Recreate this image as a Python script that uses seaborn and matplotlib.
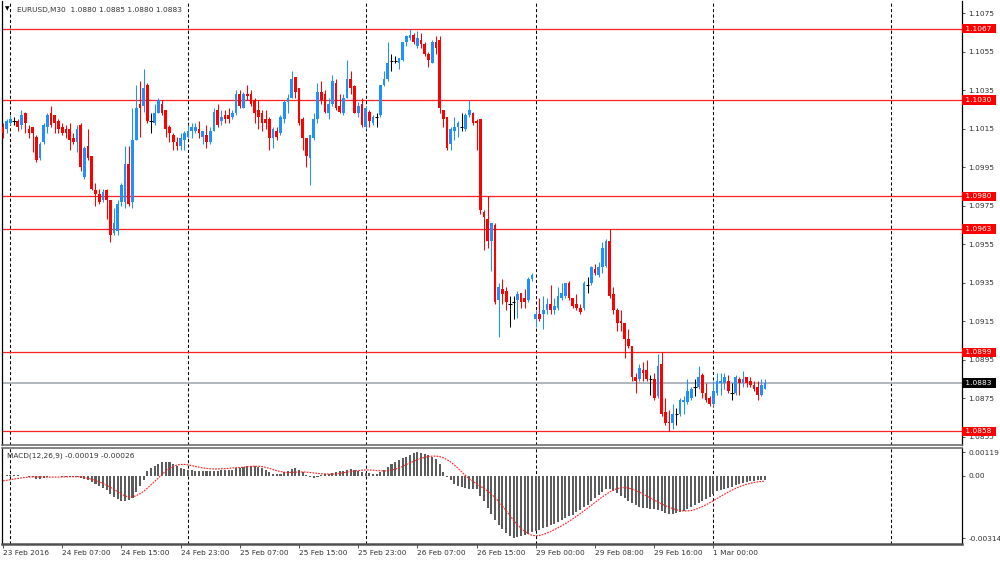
import numpy as np
import pandas as pd
import matplotlib
matplotlib.use("Agg")
import matplotlib.pyplot as plt
import seaborn as sns

# ---------------- data (EURUSD M30) ----------------
opens = [
    1.1016, 1.1015, 1.1018, 1.1019, 1.1019, 1.1017, 1.1023, 1.1015, 1.1016, 1.1011,
    1.1000, 1.1008, 1.1016, 1.1023, 1.1022, 1.1019, 1.1016, 1.1015, 1.1015, 1.1010,
    1.1008, 1.1017, 1.0990, 1.1006, 1.1001, 1.0983, 1.0981, 1.0978, 1.0983, 1.0978,
    1.0961, 1.0962, 1.0977, 1.0977, 1.0997, 1.0977, 1.1009, 1.1028, 1.1027, 1.1038,
    1.1019, 1.1018, 1.1023, 1.1028, 1.1025, 1.1016, 1.1012, 1.1008, 1.1006, 1.1009,
    1.1011, 1.1014, 1.1014, 1.1015, 1.1011, 1.1012, 1.1008, 1.1014, 1.1025, 1.1019,
    1.1022, 1.1022, 1.1021, 1.1023, 1.1033, 1.1026, 1.1033, 1.1033, 1.1030, 1.1025,
    1.1023, 1.1020, 1.1020, 1.1010, 1.1014, 1.1013, 1.1020, 1.1029, 1.1031, 1.1042,
    1.1036, 1.1020, 1.1010, 1.1000, 1.1010, 1.1020, 1.1034, 1.1033, 1.1023, 1.1028,
    1.1039, 1.1027, 1.1023, 1.1031, 1.1041, 1.1037, 1.1023, 1.1028, 1.1016, 1.1024,
    1.1018, 1.1021, 1.1022, 1.1038, 1.1041, 1.1050, 1.1050, 1.1049, 1.1051, 1.1060,
    1.1062, 1.1064, 1.1058, 1.1061, 1.1059, 1.1054, 1.1049, 1.1060, 1.1061, 1.1025,
    1.1021, 1.1007, 1.1014, 1.1016, 1.1016, 1.1015, 1.1022, 1.1023, 1.1019, 1.1020,
    1.0972, 1.0968, 1.0957, 1.0965, 1.0926, 1.0932, 1.0931, 1.0924, 1.0925, 1.0926,
    1.0930, 1.0927, 1.0926, 1.0937, 1.0916, 1.0919, 1.0919, 1.0921, 1.0924, 1.0921,
    1.0922, 1.0927, 1.0928, 1.0935, 1.0927, 1.0924, 1.0922, 1.0922, 1.0934, 1.0935,
    1.0942, 1.0939, 1.0943, 1.0944, 1.0957, 1.0929, 1.0921, 1.0915, 1.0914, 1.0906,
    1.0902, 1.0886, 1.0885, 1.0890, 1.0890, 1.0885, 1.0885, 1.0876, 1.0893, 1.0868,
    1.0863, 1.0862, 1.0867, 1.0867, 1.0873, 1.0873, 1.0875, 1.0881, 1.0881, 1.0887,
    1.0878, 1.0875, 1.0872, 1.0878, 1.0883, 1.0883, 1.0884, 1.0878, 1.0878, 1.0885,
    1.0883, 1.0886, 1.0884, 1.0882, 1.0881, 1.0877, 1.0880,
]
highs = [
    1.1018, 1.1020, 1.1022, 1.1021, 1.1020, 1.1025, 1.1024, 1.1017, 1.1016, 1.1012,
    1.1008, 1.1018, 1.1023, 1.1027, 1.1022, 1.1020, 1.1018, 1.1017, 1.1018, 1.1013,
    1.1017, 1.1018, 1.1006, 1.1015, 1.1001, 1.0987, 1.0984, 1.0984, 1.0984, 1.0978,
    1.0974, 1.0978, 1.0987, 1.1006, 1.1006, 1.1026, 1.1038, 1.1040, 1.1046, 1.1039,
    1.1023, 1.1028, 1.1031, 1.1030, 1.1025, 1.1017, 1.1013, 1.1011, 1.1013, 1.1014,
    1.1017, 1.1018, 1.1018, 1.1019, 1.1014, 1.1017, 1.1016, 1.1026, 1.1028, 1.1025,
    1.1025, 1.1026, 1.1025, 1.1035, 1.1035, 1.1034, 1.1038, 1.1035, 1.1031, 1.1030,
    1.1025, 1.1025, 1.1021, 1.1016, 1.1016, 1.1022, 1.1030, 1.1033, 1.1045, 1.1042,
    1.1036, 1.1021, 1.1010, 1.1012, 1.1023, 1.1039, 1.1040, 1.1035, 1.1031, 1.1043,
    1.1041, 1.1033, 1.1033, 1.1051, 1.1045, 1.1038, 1.1029, 1.1031, 1.1027, 1.1025,
    1.1022, 1.1023, 1.1038, 1.1045, 1.1060, 1.1054, 1.1053, 1.1052, 1.1060, 1.1064,
    1.1067, 1.1065, 1.1066, 1.1065, 1.1060, 1.1055, 1.1061, 1.1063, 1.1063, 1.1025,
    1.1021, 1.1016, 1.1021, 1.1019, 1.1023, 1.1023, 1.1030, 1.1024, 1.1020, 1.1020,
    1.0973, 1.0980, 1.0966, 1.0966, 1.0935, 1.0937, 1.0933, 1.0928, 1.0928, 1.0931,
    1.0930, 1.0932, 1.0938, 1.0940, 1.0921, 1.0927, 1.0928, 1.0927, 1.0934, 1.0927,
    1.0933, 1.0935, 1.0935, 1.0936, 1.0927, 1.0929, 1.0924, 1.0936, 1.0938, 1.0944,
    1.0945, 1.0946, 1.0956, 1.0958, 1.0963, 1.0933, 1.0922, 1.0921, 1.0914, 1.0911,
    1.0902, 1.0888, 1.0893, 1.0894, 1.0895, 1.0887, 1.0888, 1.0898, 1.0899, 1.0875,
    1.0869, 1.0872, 1.0870, 1.0875, 1.0876, 1.0885, 1.0881, 1.0885, 1.0892, 1.0888,
    1.0883, 1.0876, 1.0884, 1.0888, 1.0888, 1.0888, 1.0887, 1.0883, 1.0887, 1.0886,
    1.0889, 1.0886, 1.0886, 1.0884, 1.0884, 1.0885, 1.0885,
]
lows = [
    1.1010, 1.1013, 1.1017, 1.1017, 1.1014, 1.1015, 1.1013, 1.1010, 1.1003, 1.0998,
    1.0999, 1.1007, 1.1013, 1.1016, 1.1013, 1.1013, 1.1012, 1.1010, 1.1004, 1.1007,
    1.1003, 1.0993, 1.0989, 1.0999, 1.0983, 1.0975, 1.0976, 1.0977, 1.0968, 1.0956,
    1.0960, 1.0960, 1.0975, 1.0974, 1.0975, 1.0974, 1.1009, 1.1011, 1.1024, 1.1018,
    1.1013, 1.1017, 1.1023, 1.1022, 1.1011, 1.1008, 1.1004, 1.1004, 1.1004, 1.1004,
    1.1010, 1.1010, 1.1013, 1.1010, 1.1007, 1.1005, 1.1007, 1.1014, 1.1016, 1.1017,
    1.1018, 1.1018, 1.1020, 1.1022, 1.1026, 1.1026, 1.1030, 1.1027, 1.1018, 1.1015,
    1.1014, 1.1015, 1.1004, 1.1005, 1.1009, 1.1012, 1.1018, 1.1023, 1.1031, 1.1031,
    1.1017, 1.1004, 1.0995, 1.0986, 1.1009, 1.1018, 1.1028, 1.1023, 1.1020, 1.1027,
    1.1025, 1.1023, 1.1022, 1.1031, 1.1033, 1.1023, 1.1021, 1.1016, 1.1015, 1.1016,
    1.1017, 1.1016, 1.1021, 1.1037, 1.1040, 1.1045, 1.1049, 1.1046, 1.1050, 1.1058,
    1.1061, 1.1059, 1.1057, 1.1057, 1.1053, 1.1047, 1.1049, 1.1054, 1.1023, 1.1016,
    1.1004, 1.1004, 1.1009, 1.1011, 1.1014, 1.1014, 1.1021, 1.1017, 1.1004, 1.0971,
    1.0952, 1.0953, 1.0941, 1.0924, 1.0907, 1.0924, 1.0921, 1.0912, 1.0916, 1.0917,
    1.0922, 1.0922, 1.0925, 1.0936, 1.0912, 1.0915, 1.0911, 1.0919, 1.0919, 1.0919,
    1.0921, 1.0926, 1.0927, 1.0926, 1.0922, 1.0921, 1.0919, 1.0921, 1.0930, 1.0934,
    1.0939, 1.0938, 1.0940, 1.0943, 1.0927, 1.0919, 1.0910, 1.0910, 1.0896, 1.0901,
    1.0884, 1.0878, 1.0884, 1.0884, 1.0884, 1.0877, 1.0874, 1.0875, 1.0866, 1.0861,
    1.0858, 1.0859, 1.0861, 1.0866, 1.0867, 1.0872, 1.0874, 1.0876, 1.0880, 1.0875,
    1.0873, 1.0871, 1.0871, 1.0877, 1.0877, 1.0880, 1.0878, 1.0874, 1.0877, 1.0877,
    1.0881, 1.0881, 1.0881, 1.0879, 1.0874, 1.0876, 1.0880,
]
closes = [
    1.1013, 1.1019, 1.1020, 1.1019, 1.1016, 1.1022, 1.1018, 1.1013, 1.1013, 1.0999,
    1.1007, 1.1017, 1.1022, 1.1017, 1.1018, 1.1015, 1.1013, 1.1013, 1.1009, 1.1008,
    1.1015, 1.0995, 1.1005, 1.1000, 1.0984, 1.0981, 1.0977, 1.0982, 1.0978, 1.0960,
    1.0966, 1.0976, 1.0986, 1.0997, 1.0976, 1.1009, 1.1026, 1.1026, 1.1036, 1.1019,
    1.1019, 1.1023, 1.1030, 1.1023, 1.1015, 1.1013, 1.1008, 1.1006, 1.1010, 1.1013,
    1.1014, 1.1016, 1.1016, 1.1013, 1.1014, 1.1008, 1.1014, 1.1024, 1.1017, 1.1021,
    1.1020, 1.1020, 1.1023, 1.1033, 1.1027, 1.1033, 1.1032, 1.1028, 1.1023, 1.1021,
    1.1018, 1.1018, 1.1010, 1.1015, 1.1011, 1.1021, 1.1029, 1.1031, 1.1041, 1.1034,
    1.1018, 1.1010, 1.1001, 1.1012, 1.1020, 1.1034, 1.1030, 1.1024, 1.1028, 1.1040,
    1.1026, 1.1024, 1.1031, 1.1041, 1.1036, 1.1023, 1.1027, 1.1017, 1.1026, 1.1019,
    1.1021, 1.1021, 1.1038, 1.1041, 1.1049, 1.1050, 1.1050, 1.1052, 1.1060, 1.1063,
    1.1064, 1.1060, 1.1062, 1.1059, 1.1054, 1.1051, 1.1060, 1.1057, 1.1026, 1.1020,
    1.1005, 1.1015, 1.1016, 1.1018, 1.1016, 1.1022, 1.1025, 1.1018, 1.1018, 1.0973,
    1.0969, 1.0957, 1.0966, 1.0925, 1.0933, 1.0929, 1.0925, 1.0924, 1.0925, 1.0929,
    1.0925, 1.0925, 1.0937, 1.0939, 1.0919, 1.0916, 1.0921, 1.0924, 1.0921, 1.0923,
    1.0928, 1.0930, 1.0935, 1.0927, 1.0923, 1.0922, 1.0920, 1.0935, 1.0934, 1.0943,
    1.0940, 1.0943, 1.0953, 1.0957, 1.0928, 1.0921, 1.0914, 1.0914, 1.0906, 1.0902,
    1.0886, 1.0884, 1.0891, 1.0888, 1.0885, 1.0885, 1.0875, 1.0892, 1.0867, 1.0862,
    1.0862, 1.0867, 1.0867, 1.0874, 1.0874, 1.0879, 1.0880, 1.0881, 1.0886, 1.0878,
    1.0874, 1.0872, 1.0879, 1.0884, 1.0884, 1.0886, 1.0879, 1.0878, 1.0886, 1.0883,
    1.0885, 1.0883, 1.0882, 1.0880, 1.0877, 1.0882, 1.0883,
]
macd_main = [
    0.00002, 0.00003, 0.00004, 0.00004, 0.00003, 0.00002, 0.00001, -0.00003, -0.00008, -0.00014,
    -0.00016, -0.00012, -0.00006, -0.00002, -0.00001, -0.00002, -0.00003, -0.00004, -0.00005, -0.00007,
    -0.00006, -0.00012, -0.00018, -0.00022, -0.00032, -0.00042, -0.00052, -0.00062, -0.00072, -0.00090,
    -0.00105, -0.00118, -0.00128, -0.00128, -0.00122, -0.00110, -0.00082, -0.00050, -0.00020, 0.00025,
    0.00040, 0.00052, 0.00062, 0.00070, 0.00072, 0.00068, 0.00060, 0.00052, 0.00042, 0.00034,
    0.00030, 0.00028, 0.00026, 0.00025, 0.00024, 0.00023, 0.00024, 0.00026, 0.00027, 0.00028,
    0.00029, 0.00030, 0.00032, 0.00038, 0.00042, 0.00046, 0.00050, 0.00052, 0.00050, 0.00046,
    0.00040, 0.00032, 0.00020, 0.00012, 0.00010, 0.00012, 0.00018, 0.00026, 0.00034, 0.00038,
    0.00032, 0.00020, 0.00006, -0.00006, -0.00010, -0.00006, 0.00004, 0.00008, 0.00010, 0.00016,
    0.00022, 0.00024, 0.00025, 0.00030, 0.00033, 0.00030, 0.00026, 0.00020, 0.00016, 0.00013,
    0.00010, 0.00010, 0.00018, 0.00030, 0.00045, 0.00058, 0.00068, 0.00078, 0.00088, 0.00098,
    0.00108, 0.00115, 0.00119, 0.00118, 0.00112, 0.00104, 0.00095, 0.00085, 0.00062, 0.00022,
    -0.00008, -0.00020, -0.00040, -0.00050, -0.00058, -0.00062, -0.00064, -0.00066, -0.00068, -0.00100,
    -0.00125, -0.00160, -0.00190, -0.00225, -0.00250, -0.00270, -0.00288, -0.00302, -0.00314, -0.00310,
    -0.00305, -0.00298, -0.00292, -0.00285, -0.00280, -0.00272, -0.00265, -0.00258, -0.00250, -0.00242,
    -0.00235, -0.00225, -0.00215, -0.00205, -0.00195, -0.00182, -0.00170, -0.00158, -0.00145, -0.00128,
    -0.00112, -0.00095, -0.00080, -0.00068, -0.00066, -0.00075, -0.00088, -0.00100, -0.00112, -0.00125,
    -0.00138, -0.00148, -0.00155, -0.00160, -0.00162, -0.00165, -0.00168, -0.00170, -0.00178, -0.00186,
    -0.00190, -0.00192, -0.00188, -0.00182, -0.00175, -0.00168, -0.00158, -0.00148, -0.00135, -0.00125,
    -0.00115, -0.00105, -0.00090, -0.00078, -0.00070, -0.00065, -0.00060, -0.00055, -0.00048, -0.00042,
    -0.00036, -0.00031, -0.00028, -0.00025, -0.00022, -0.00020, -0.00019,
]
macd_signal = [
    -0.00025, -0.00022, -0.00019, -0.00016, -0.00013, -0.00010, -0.00008, -0.00006, -0.00005, -0.00005,
    -0.00005, -0.00005, -0.00006, -0.00006, -0.00006, -0.00006, -0.00005, -0.00005, -0.00004, -0.00004,
    -0.00004, -0.00005, -0.00008, -0.00012, -0.00017, -0.00023, -0.00030, -0.00038, -0.00047, -0.00057,
    -0.00068, -0.00080, -0.00092, -0.00101, -0.00107, -0.00106, -0.00100, -0.00090, -0.00078, -0.00062,
    -0.00045, -0.00028, -0.00010, 0.00008, 0.00024, 0.00038, 0.00048, 0.00055, 0.00058, 0.00058,
    0.00056, 0.00052, 0.00048, 0.00044, 0.00040, 0.00038, 0.00036, 0.00035, 0.00035, 0.00036,
    0.00037, 0.00038, 0.00040, 0.00041, 0.00042, 0.00044, 0.00046, 0.00048, 0.00049, 0.00049,
    0.00047, 0.00043, 0.00038, 0.00032, 0.00026, 0.00022, 0.00019, 0.00017, 0.00018, 0.00019,
    0.00020, 0.00020, 0.00019, 0.00017, 0.00015, 0.00013, 0.00011, 0.00010, 0.00009, 0.00009,
    0.00011, 0.00013, 0.00016, 0.00019, 0.00022, 0.00025, 0.00027, 0.00029, 0.00030, 0.00030,
    0.00029, 0.00027, 0.00026, 0.00025, 0.00026, 0.00029, 0.00034, 0.00040, 0.00048, 0.00057,
    0.00066, 0.00074, 0.00082, 0.00089, 0.00094, 0.00098, 0.00100, 0.00100, 0.00098, 0.00092,
    0.00082, 0.00070, 0.00055, 0.00038, 0.00020, 0.00002, -0.00014, -0.00028, -0.00040, -0.00052,
    -0.00064, -0.00077, -0.00092, -0.00110, -0.00130, -0.00152, -0.00175, -0.00200, -0.00224, -0.00246,
    -0.00265, -0.00280, -0.00292, -0.00300, -0.00303, -0.00301, -0.00296, -0.00289, -0.00281, -0.00272,
    -0.00262, -0.00252, -0.00241, -0.00229, -0.00217, -0.00204, -0.00191, -0.00177, -0.00163, -0.00149,
    -0.00134, -0.00120, -0.00106, -0.00093, -0.00081, -0.00071, -0.00064, -0.00060, -0.00059, -0.00061,
    -0.00066, -0.00073, -0.00082, -0.00092, -0.00102, -0.00112, -0.00122, -0.00132, -0.00141, -0.00150,
    -0.00158, -0.00165, -0.00171, -0.00175, -0.00177, -0.00177, -0.00175, -0.00170, -0.00163, -0.00155,
    -0.00146, -0.00136, -0.00125, -0.00114, -0.00103, -0.00092, -0.00082, -0.00072, -0.00063, -0.00055,
    -0.00048, -0.00042, -0.00037, -0.00033, -0.00030, -0.00028, -0.00026,
]

red_levels = [1.1067, 1.1030, 1.0980, 1.0963, 1.0899, 1.0858]
bid_level = 1.0883
price_ticks = [1.1075, 1.1055, 1.1035, 1.1015, 1.0995, 1.0975, 1.0955,
               1.0935, 1.0915, 1.0895, 1.0875, 1.0855]
macd_ticks = [0.00119, 0.0, -0.00314]
macd_tick_labels = ["0.00119", "0.00", "-0.00314"]
time_labels = ["2016-02-23 23:00", "2016-02-24 07:00", "2016-02-24 15:00",
               "2016-02-24 23:00", "2016-02-25 07:00", "2016-02-25 15:00",
               "2016-02-25 23:00", "2016-02-26 07:00", "2016-02-26 15:00",
               "2016-02-29 00:00", "2016-02-29 08:00", "2016-02-29 16:00",
               "2016-03-01 00:00"]
time_texts = ["23 Feb 2016", "24 Feb 07:00", "24 Feb 15:00", "24 Feb 23:00",
              "25 Feb 07:00", "25 Feb 15:00", "25 Feb 23:00", "26 Feb 07:00",
              "26 Feb 15:00", "29 Feb 00:00", "29 Feb 08:00", "29 Feb 16:00",
              "1 Mar 00:00"]
title_text = "EURUSD,M30  1.0880 1.0885 1.0880 1.0883"
macd_title = "MACD(12,26,9) -0.00019 -0.00026"

# bar time index (M30, weekend skipped)
times = pd.DatetimeIndex(
    list(pd.date_range("2016-02-23 23:00", "2016-02-26 22:30", freq="30min"))
    + list(pd.date_range("2016-02-29 00:00", "2016-03-01 07:00", freq="30min")))
n = len(times)
assert n == len(opens) == len(highs) == len(lows) == len(closes) == len(macd_main) == len(macd_signal)
idx = np.arange(n)

# ---------------- style ----------------
sns.set_theme(style="white")
plt.rcParams["font.family"] = ["DejaVu Sans"]
FS = 5.3
BULL = "#1E90FF"
BEAR = "#FF0000"

fig = plt.figure(figsize=(10, 5.64), dpi=100)
W, H = 1000.0, 564.0
ax = fig.add_axes([2 / W, (H - 445) / H, 960 / W, 444 / H])
ax2 = fig.add_axes([2 / W, (H - 544) / H, 960 / W, 96 / H])

xlim = (-0.27, 259.2)

# day separators
day_starts = [i for i, t in enumerate(times) if t.hour == 0 and t.minute == 0]
day_starts = day_starts + [day_starts[-1] + 48]
for a in (ax, ax2):
    for d in day_starts:
        a.axvline(d, color="black", lw=0.75, ls=(0, (3, 2.2)), zorder=1)

# horizontal levels
for lv in red_levels:
    ax.axhline(lv, color="#FF2020", lw=0.9, zorder=1.5)
ax.axhline(bid_level, color="#A8B0B8", lw=1.3, zorder=1.5)

# candles
o = np.array(opens); h = np.array(highs); l = np.array(lows); c = np.array(closes)
cols = np.where(c > o, BULL, np.where(c < o, BEAR, "black"))
ax.vlines(idx, l, h, colors=cols, lw=0.75, zorder=3)
body = np.abs(c - o)
mask = body > 0
ax.bar(idx[mask], body[mask], bottom=np.minimum(o, c)[mask], width=0.72,
       color=cols[mask], linewidth=0, zorder=4)
dj = ~mask
ax.hlines(o[dj], idx[dj] - 0.45, idx[dj] + 0.45, colors="black", lw=0.75, zorder=4)

ax.set_xlim(*xlim)
ax.set_ylim(1.08508, 1.10814)
ax.set_xticks([])
ax.yaxis.tick_right()
ax.set_yticks(price_ticks)
ax.set_yticklabels([f"{t:.4f}" for t in price_ticks])
ax.tick_params(axis="y", right=True, length=2.5, width=0.6, pad=2,
               labelsize=FS, colors="#303030")

for lv in red_levels:
    ax.text(1.0015, lv, f" {lv:.4f} ", transform=ax.get_yaxis_transform(),
            ha="left", va="center", fontsize=FS, color="white", zorder=6,
            bbox=dict(boxstyle="square,pad=0.22", fc="#FF0000", ec="none"),
            clip_on=False)
ax.text(1.0015, bid_level, f" {bid_level:.4f} ", transform=ax.get_yaxis_transform(),
        ha="left", va="center", fontsize=FS, color="white", zorder=6,
        bbox=dict(boxstyle="square,pad=0.22", fc="black", ec="none"), clip_on=False)

for side in ("left", "right"):
    ax.spines[side].set_color("black"); ax.spines[side].set_linewidth(0.9)
ax.spines["top"].set_visible(False)
ax.spines["bottom"].set_color("#6E6E6E"); ax.spines["bottom"].set_linewidth(1.2)

# MACD panel
mdf = pd.DataFrame({"bar": idx, "macd": macd_main, "signal": macd_signal})
sns.barplot(data=mdf, x="bar", y="macd", ax=ax2, native_scale=True, color="#5C5C5C",
            saturation=1, width=0.55, linewidth=0, edgecolor="none", errorbar=None, zorder=2)
sns.lineplot(data=mdf, x="bar", y="signal", ax=ax2, color="#FF2020", lw=0.8,
             ls=(0, (1.6, 1.0)), zorder=3)
ax2.set_xlim(*xlim)
ax2.set_ylim(-0.00344, 0.00141)
ax2.set_xlabel(""); ax2.set_ylabel("")
ax2.yaxis.tick_right()
ax2.set_yticks(macd_ticks)
ax2.set_yticklabels(macd_tick_labels)
ax2.tick_params(axis="y", right=True, length=2.5, width=0.6, pad=2,
                labelsize=FS, colors="#303030")
tick_pos = [times.get_loc(pd.Timestamp(t)) for t in time_labels]
ax2.set_xticks(tick_pos)
ax2.set_xticklabels(time_texts, ha="left")
ax2.tick_params(axis="x", bottom=True, length=3, width=0.6, pad=1.5,
                labelsize=FS, colors="#303030")
for lab in ax2.get_xticklabels():
    lab.set_horizontalalignment("left")
for side in ("left", "right"):
    ax2.spines[side].set_color("black"); ax2.spines[side].set_linewidth(0.9)
ax2.spines["top"].set_color("#6E6E6E"); ax2.spines["top"].set_linewidth(1.2)
ax2.spines["bottom"].set_color("#505050"); ax2.spines["bottom"].set_linewidth(1.8)

# header texts
fig.text(17 / W, 1 - 10 / H, title_text, fontsize=FS, color="#303030", va="center", ha="left")
fig.text(5 / W, 1 - 9 / H, "\u25BC", fontsize=4.2, color="black", va="center", ha="left")
fig.text(7 / W, 1 - 456 / H, macd_title, fontsize=FS, color="#303030", va="center", ha="left")

fig.savefig("out.png", dpi=100, facecolor="white")
